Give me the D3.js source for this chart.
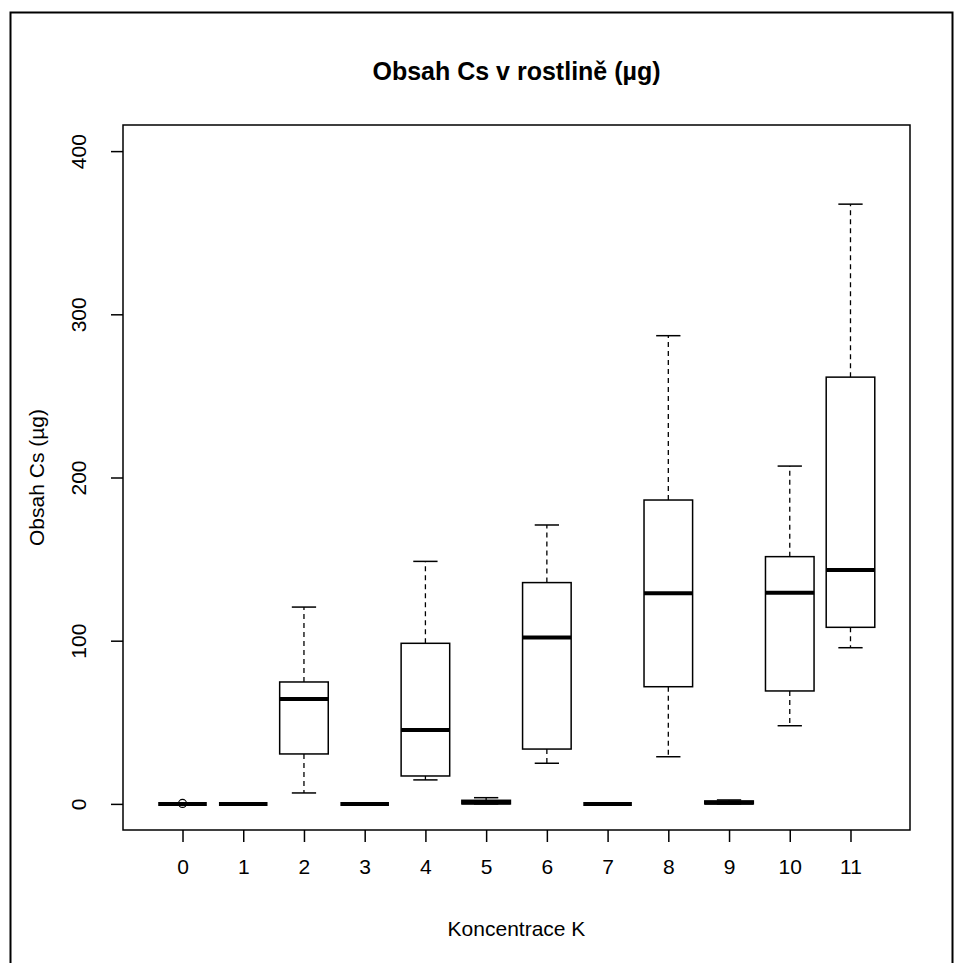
<!DOCTYPE html>
<html>
<head>
<meta charset="utf-8">
<script src="https://cdn.jsdelivr.net/npm/d3@7"></script>
<style>
  body { margin: 0; background: #fff; }
  text { font-family: "Liberation Sans", Arial, sans-serif; fill: #000; }
</style>
</head>
<body>
<svg id="chart"></svg>
<script>
// groups (Koncentrace K)
const categories = ["0","1","2","3","4","5","6","7","8","9","10","11"];
// five-number summaries (µg)
const whiskerLow  = [0, 0,   6.7, 0,  14.7, 0,   24.9, 0, 28.9, 0,   47.9, 95.7];
const q1          = [0, 0,  30.6, 0,  17.1, 0,   33.6, 0, 71.8, 0,   69.2, 108.2];
const median      = [0, 0,  64.3, 0,  45.3, 0.9, 101.9, 0, 129.0, 0.7, 129.4, 143.3];
const q3          = [0, 0,  74.7, 0,  98.4, 2.2, 135.6, 0, 186.2, 1.8, 151.5, 261.5];
const whiskerHigh = [0, 0, 120.6, 0, 148.6, 3.8, 170.9, 0, 286.9, 2.4, 207.0, 367.5];
const outliers = [{ group: "0", value: 0.3 }];
const yTicks = [0, 100, 200, 300, 400];

const W = 955, H = 963;
const plot = { left: 123, right: 910, top: 125, bottom: 830 };

const svg = d3.select("#chart").attr("width", W).attr("height", H);

// outer frame of the device
svg.append("rect")
    .attr("x", 10.5).attr("y", 12.5)
    .attr("width", 942).attr("height", 960)
    .attr("fill", "none").attr("stroke", "#000").attr("stroke-width", 2);

// R style: positions 1..n, range extended by 4%
const x = d3.scaleLinear()
    .domain([0.02, categories.length + 0.98])
    .range([plot.left, plot.right]);
const y = d3.scaleLinear()
    .domain([-16, 416])
    .range([plot.bottom, plot.top]);

const boxW = x(1.4) - x(0.6);
const capW = boxW / 2;

const data = categories.map((c, i) => ({
    cat: c, pos: i + 1,
    lo: whiskerLow[i], q1: q1[i], med: median[i], q3: q3[i], hi: whiskerHigh[i]
}));

const g = svg.append("g");

const box = g.selectAll(".box")
    .data(data)
  .enter().append("g")
    .attr("class", "box");

// whiskers (dashed)
box.append("line")
    .attr("x1", d => x(d.pos)).attr("x2", d => x(d.pos))
    .attr("y1", d => y(d.q3)).attr("y2", d => y(d.hi))
    .attr("stroke", "#000").attr("stroke-width", 1.3)
    .attr("stroke-dasharray", "5,4");
box.append("line")
    .attr("x1", d => x(d.pos)).attr("x2", d => x(d.pos))
    .attr("y1", d => y(d.q1)).attr("y2", d => y(d.lo))
    .attr("stroke", "#000").attr("stroke-width", 1.3)
    .attr("stroke-dasharray", "5,4");

// staples
["hi", "lo"].forEach(k => {
    box.append("line")
        .attr("x1", d => x(d.pos) - capW / 2).attr("x2", d => x(d.pos) + capW / 2)
        .attr("y1", d => y(d[k])).attr("y2", d => y(d[k]))
        .attr("stroke", "#000").attr("stroke-width", 1.5);
});

// boxes
box.append("rect")
    .attr("x", d => x(d.pos) - boxW / 2)
    .attr("y", d => y(d.q3))
    .attr("width", boxW)
    .attr("height", d => y(d.q1) - y(d.q3))
    .attr("fill", "#fff")
    .attr("stroke", "#000").attr("stroke-width", 1.5);

// medians
box.append("line")
    .attr("x1", d => x(d.pos) - boxW / 2).attr("x2", d => x(d.pos) + boxW / 2)
    .attr("y1", d => y(d.med)).attr("y2", d => y(d.med))
    .attr("stroke", "#000").attr("stroke-width", 4);

// outliers
g.selectAll(".out")
    .data(outliers)
  .enter().append("circle")
    .attr("cx", d => x(categories.indexOf(d.group) + 1))
    .attr("cy", d => y(d.value))
    .attr("r", 4)
    .attr("fill", "none").attr("stroke", "#000").attr("stroke-width", 1.2);

// plot frame
svg.append("rect")
    .attr("x", plot.left).attr("y", plot.top)
    .attr("width", plot.right - plot.left).attr("height", plot.bottom - plot.top)
    .attr("fill", "none").attr("stroke", "#000").attr("stroke-width", 1.5);

// axes
const xAxis = svg.append("g")
    .attr("transform", `translate(0,${plot.bottom})`)
    .call(d3.axisBottom(x)
        .tickValues(data.map(d => d.pos))
        .tickFormat((d, i) => categories[i])
        .tickSize(12).tickPadding(17));
xAxis.select(".domain").remove();
xAxis.selectAll(".tick line").attr("stroke-width", 1.5);
xAxis.selectAll("text").attr("font-size", 21).attr("font-family", null);

const yAxis = svg.append("g")
    .attr("transform", `translate(${plot.left},0)`)
    .call(d3.axisLeft(y).tickValues(yTicks).tickSize(12));
yAxis.select(".domain").remove();
yAxis.selectAll(".tick line").attr("stroke-width", 1.5);
yAxis.selectAll("text")
    .attr("font-size", 21).attr("font-family", null)
    .attr("x", 0).attr("dy", null)
    .attr("transform", "translate(-37,0) rotate(-90)")
    .attr("text-anchor", "middle");

// titles
svg.append("text")
    .attr("x", (plot.left + plot.right) / 2).attr("y", 80)
    .attr("text-anchor", "middle")
    .attr("font-size", 25).attr("font-weight", "bold")
    .text("Obsah Cs v rostlině (µg)");

svg.append("text")
    .attr("x", (plot.left + plot.right) / 2).attr("y", 936)
    .attr("text-anchor", "middle")
    .attr("font-size", 21)
    .text("Koncentrace K");

svg.append("text")
    .attr("transform", `translate(44,${(plot.top + plot.bottom) / 2}) rotate(-90)`)
    .attr("text-anchor", "middle")
    .attr("font-size", 21)
    .text("Obsah Cs (µg)");
</script>
</body>
</html>
